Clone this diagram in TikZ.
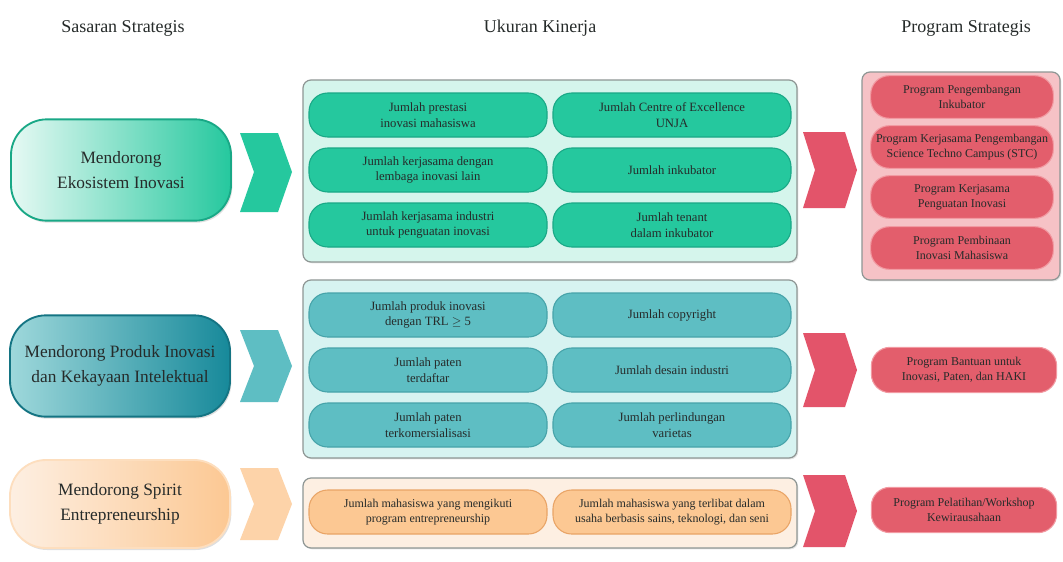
\documentclass[tikz,border=0pt]{standalone}
\usepackage{fontspec}
\setmainfont{Liberation Serif}
\usetikzlibrary{shadows}

\definecolor{gpill}{HTML}{25C89E}
\definecolor{gline}{HTML}{19A886}
\definecolor{gpanel}{HTML}{D5F5EC}
\definecolor{tpill}{HTML}{5EBEC3}
\definecolor{tline}{HTML}{46A3A9}
\definecolor{tpanel}{HTML}{D7F3F1}
\definecolor{tdeep}{HTML}{17899A}
\definecolor{opill}{HTML}{FCC893}
\definecolor{oline}{HTML}{E9A466}
\definecolor{opanel}{HTML}{FDEFE2}
\definecolor{rpill}{HTML}{E35E6C}
\definecolor{rline}{HTML}{F29AA2}
\definecolor{rpanel}{HTML}{F6C2C6}
\definecolor{rchev}{HTML}{E3546A}
\definecolor{frame}{HTML}{8E9694}
\definecolor{ink}{HTML}{262B2A}

\begin{document}
\begin{tikzpicture}[x=0.75pt, y=-0.75pt,
    head/.style={text=ink, font=\fontsize{13.5}{16}\selectfont},
    goal/.style={rounded corners=27pt, minimum width=165pt, minimum height=76pt,
        align=center, text=ink, line width=1.4pt, font=\fontsize{13}{19}\selectfont,
        drop shadow={shadow xshift=1pt, shadow yshift=-1.5pt, opacity=0.25}},
    panel/.style={draw=frame, line width=0.9pt, rounded corners=6pt,
        drop shadow={shadow xshift=1pt, shadow yshift=-1pt, opacity=0.2}},
    pill/.style={draw, line width=0.8pt, rounded corners=14pt, minimum width=178.5pt,
        minimum height=33pt, align=center, inner sep=1pt, text=ink,
        font=\fontsize{9.5}{11.5}\selectfont},
    prog/.style={pill, fill=rpill, draw=rline, minimum width=137pt, minimum height=32pt,
        font=\fontsize{9}{11}\selectfont}]
    \useasboundingbox[fill=white] (0,0) rectangle (1063,561);

    % column titles
    \node[head] (tsasaran) at (123,28) {Sasaran Strategis};
    \node[head] (tukuran) at (540,28) {Ukuran Kinerja};
    \node[head] (tprogram) at (966,28) {Program Strategis};

    % Sasaran Strategis
    \node[goal, draw=gline, left color=gpanel!60, right color=gpill] (ekosistem) at (121,170)
        {Mendorong\\Ekosistem Inovasi};
    \node[goal, draw=tdeep!85!black, left color=tpill!60, right color=tdeep] (produk) at (120,366)
        {Mendorong Produk Inovasi\\dan Kekayaan Intelektual};
    \node[goal, draw=opill!60, left color=opanel, right color=opill, minimum height=66pt] (spirit) at (120,504)
        {Mendorong Spirit\\Entrepreneurship};

    % chevrons into Ukuran Kinerja
    \fill[gpill] (240,133) -- (278,133) -- (292,172) -- (278,212) -- (240,212) -- (254,172) -- cycle;
    \fill[tpill] (240,330) -- (278,330) -- (292,366) -- (278,402) -- (240,402) -- (254,366) -- cycle;
    \fill[opill!80] (240,468) -- (278,468) -- (292,504) -- (278,540) -- (240,540) -- (254,504) -- cycle;

    % Ukuran Kinerja - ekosistem
    \draw[panel, fill=gpanel] (303,80) rectangle (797,262);
    \node[pill, fill=gpill, draw=gline] (g1) at (428,115) {Jumlah prestasi\\inovasi mahasiswa};
    \node[pill, fill=gpill, draw=gline] (g2) at (672,115) {Jumlah Centre of Excellence\\UNJA};
    \node[pill, fill=gpill, draw=gline] (g3) at (428,170) {Jumlah kerjasama dengan\\lembaga inovasi lain};
    \node[pill, fill=gpill, draw=gline] (g4) at (672,170) {Jumlah inkubator};
    \node[pill, fill=gpill, draw=gline] (g5) at (428,225) {Jumlah kerjasama industri\\untuk penguatan inovasi};
    \node[pill, fill=gpill, draw=gline] (g6) at (672,225) {Jumlah tenant\\dalam inkubator};

    % Ukuran Kinerja - produk
    \draw[panel, fill=tpanel] (303,280) rectangle (797,458);
    \node[pill, fill=tpill, draw=tline] (t1) at (428,315) {Jumlah produk inovasi\\dengan TRL $\geq$ 5};
    \node[pill, fill=tpill, draw=tline] (t2) at (672,315) {Jumlah copyright};
    \node[pill, fill=tpill, draw=tline] (t3) at (428,370) {Jumlah paten\\terdaftar};
    \node[pill, fill=tpill, draw=tline] (t4) at (672,370) {Jumlah desain industri};
    \node[pill, fill=tpill, draw=tline] (t5) at (428,425) {Jumlah paten\\terkomersialisasi};
    \node[pill, fill=tpill, draw=tline] (t6) at (672,425) {Jumlah perlindungan\\varietas};

    % Ukuran Kinerja - spirit
    \draw[panel, fill=opanel] (303,478) rectangle (797,548);
    \node[pill, fill=opill, draw=oline, font=\fontsize{9}{11}\selectfont] (o1) at (428,512)
        {Jumlah mahasiswa yang mengikuti\\program entrepreneurship};
    \node[pill, fill=opill, draw=oline, font=\fontsize{9}{11}\selectfont] (o2) at (672,512)
        {Jumlah mahasiswa yang terlibat dalam\\usaha berbasis sains, teknologi, dan seni};

    % chevrons into Program Strategis
    \fill[rchev] (803,132) -- (845,132) -- (857,170) -- (845,208) -- (803,208) -- (815,170) -- cycle;
    \fill[rchev] (803,333) -- (845,333) -- (857,370) -- (845,407) -- (803,407) -- (815,370) -- cycle;
    \fill[rchev] (803,475) -- (845,475) -- (857,511) -- (845,547) -- (803,547) -- (815,511) -- cycle;

    % Program Strategis
    \draw[panel, fill=rpanel] (862,72) rectangle (1060,280);
    \node[prog] (p1) at (962,97) {Program Pengembangan\\Inkubator};
    \node[prog] (p2) at (962,147) {Program Kerjasama Pengembangan\\Science Techno Campus (STC)};
    \node[prog] (p3) at (962,197) {Program Kerjasama\\Penguatan Inovasi};
    \node[prog] (p4) at (962,248) {Program Pembinaan\\Inovasi Mahasiswa};
    \node[prog, minimum width=139pt, minimum height=34pt] (p5) at (964,370) {Program Bantuan untuk\\Inovasi, Paten, dan HAKI};
    \node[prog, minimum width=139pt, minimum height=34pt] (p6) at (964,510) {Program Pelatihan/Workshop\\Kewirausahaan};
\end{tikzpicture}
\end{document}
